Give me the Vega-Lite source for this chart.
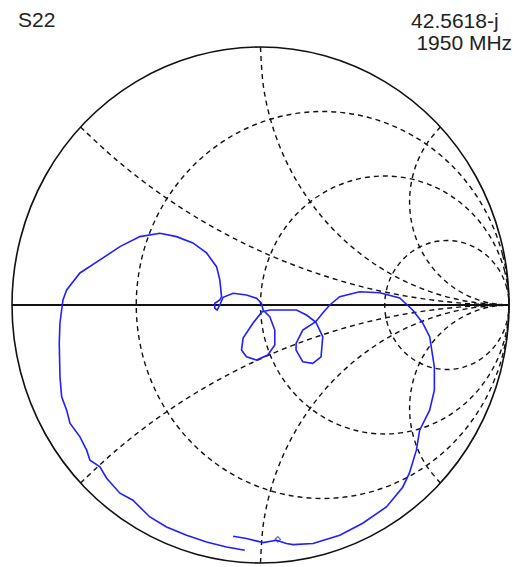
{
  "$schema": "https://vega.github.io/schema/vega-lite/v6.json",
  "width": 497,
  "height": 516,
  "autosize": {"type": "none"},
  "padding": {"left": 12, "top": 47, "right": 4, "bottom": 4},
  "background": "white",
  "config": {"view": {"stroke": null}},
  "datasets": {
    "outer": [
      {"i":0,"x":1,"y":0},{"i":1,"x":0.9659,"y":0.2588},{"i":2,"x":0.866,"y":0.5},{"i":3,"x":0.7071,"y":0.7071},{"i":4,"x":0.5,"y":0.866},{"i":5,"x":0.2588,"y":0.9659},{"i":6,"x":0,"y":1},{"i":7,"x":-0.2588,"y":0.9659},{"i":8,"x":-0.5,"y":0.866},{"i":9,"x":-0.7071,"y":0.7071},{"i":10,"x":-0.866,"y":0.5},{"i":11,"x":-0.9659,"y":0.2588},{"i":12,"x":-1,"y":0},{"i":13,"x":-0.9659,"y":-0.2588},{"i":14,"x":-0.866,"y":-0.5},{"i":15,"x":-0.7071,"y":-0.7071},{"i":16,"x":-0.5,"y":-0.866},{"i":17,"x":-0.2588,"y":-0.9659},{"i":18,"x":0,"y":-1},{"i":19,"x":0.2588,"y":-0.9659},{"i":20,"x":0.5,"y":-0.866},{"i":21,"x":0.7071,"y":-0.7071},{"i":22,"x":0.866,"y":-0.5},{"i":23,"x":0.9659,"y":-0.2588}
    ],
    "circ": [
      {"g":"r1","i":0,"x":1,"y":0},{"g":"r1","i":1,"x":0.9744,"y":0.1941},{"g":"r1","i":2,"x":0.8995,"y":0.375},{"g":"r1","i":3,"x":0.7803,"y":0.5303},{"g":"r1","i":4,"x":0.625,"y":0.6495},{"g":"r1","i":5,"x":0.4441,"y":0.7244},{"g":"r1","i":6,"x":0.25,"y":0.75},{"g":"r1","i":7,"x":0.0559,"y":0.7244},{"g":"r1","i":8,"x":-0.125,"y":0.6495},{"g":"r1","i":9,"x":-0.2803,"y":0.5303},{"g":"r1","i":10,"x":-0.3995,"y":0.375},{"g":"r1","i":11,"x":-0.4744,"y":0.1941},{"g":"r1","i":12,"x":-0.5,"y":0},{"g":"r1","i":13,"x":-0.4744,"y":-0.1941},{"g":"r1","i":14,"x":-0.3995,"y":-0.375},{"g":"r1","i":15,"x":-0.2803,"y":-0.5303},{"g":"r1","i":16,"x":-0.125,"y":-0.6495},{"g":"r1","i":17,"x":0.0559,"y":-0.7244},{"g":"r1","i":18,"x":0.25,"y":-0.75},{"g":"r1","i":19,"x":0.4441,"y":-0.7244},{"g":"r1","i":20,"x":0.625,"y":-0.6495},{"g":"r1","i":21,"x":0.7803,"y":-0.5303},{"g":"r1","i":22,"x":0.8995,"y":-0.375},{"g":"r1","i":23,"x":0.9744,"y":-0.1941},
      {"g":"r2","i":0,"x":1,"y":0},{"g":"r2","i":1,"x":0.983,"y":0.1294},{"g":"r2","i":2,"x":0.933,"y":0.25},{"g":"r2","i":3,"x":0.8536,"y":0.3536},{"g":"r2","i":4,"x":0.75,"y":0.433},{"g":"r2","i":5,"x":0.6294,"y":0.483},{"g":"r2","i":6,"x":0.5,"y":0.5},{"g":"r2","i":7,"x":0.3706,"y":0.483},{"g":"r2","i":8,"x":0.25,"y":0.433},{"g":"r2","i":9,"x":0.1464,"y":0.3536},{"g":"r2","i":10,"x":0.067,"y":0.25},{"g":"r2","i":11,"x":0.017,"y":0.1294},{"g":"r2","i":12,"x":0,"y":0},{"g":"r2","i":13,"x":0.017,"y":-0.1294},{"g":"r2","i":14,"x":0.067,"y":-0.25},{"g":"r2","i":15,"x":0.1464,"y":-0.3536},{"g":"r2","i":16,"x":0.25,"y":-0.433},{"g":"r2","i":17,"x":0.3706,"y":-0.483},{"g":"r2","i":18,"x":0.5,"y":-0.5},{"g":"r2","i":19,"x":0.6294,"y":-0.483},{"g":"r2","i":20,"x":0.75,"y":-0.433},{"g":"r2","i":21,"x":0.8536,"y":-0.3536},{"g":"r2","i":22,"x":0.933,"y":-0.25},{"g":"r2","i":23,"x":0.983,"y":-0.1294},
      {"g":"r3","i":0,"x":1,"y":0},{"g":"r3","i":1,"x":0.9915,"y":0.0647},{"g":"r3","i":2,"x":0.9665,"y":0.125},{"g":"r3","i":3,"x":0.9268,"y":0.1768},{"g":"r3","i":4,"x":0.875,"y":0.2165},{"g":"r3","i":5,"x":0.8147,"y":0.2415},{"g":"r3","i":6,"x":0.75,"y":0.25},{"g":"r3","i":7,"x":0.6853,"y":0.2415},{"g":"r3","i":8,"x":0.625,"y":0.2165},{"g":"r3","i":9,"x":0.5732,"y":0.1768},{"g":"r3","i":10,"x":0.5335,"y":0.125},{"g":"r3","i":11,"x":0.5085,"y":0.0647},{"g":"r3","i":12,"x":0.5,"y":0},{"g":"r3","i":13,"x":0.5085,"y":-0.0647},{"g":"r3","i":14,"x":0.5335,"y":-0.125},{"g":"r3","i":15,"x":0.5732,"y":-0.1768},{"g":"r3","i":16,"x":0.625,"y":-0.2165},{"g":"r3","i":17,"x":0.6853,"y":-0.2415},{"g":"r3","i":18,"x":0.75,"y":-0.25},{"g":"r3","i":19,"x":0.8147,"y":-0.2415},{"g":"r3","i":20,"x":0.875,"y":-0.2165},{"g":"r3","i":21,"x":0.9268,"y":-0.1768},{"g":"r3","i":22,"x":0.9665,"y":-0.125},{"g":"r3","i":23,"x":0.9915,"y":-0.0647}
    ],
    "arcs": [
      {"g":"xa","i":0,"x":-0.7241,"y":0.6897},{"g":"xa","i":1,"x":-0.5813,"y":0.5635},{"g":"xa","i":2,"x":-0.4295,"y":0.449},{"g":"xa","i":3,"x":-0.2695,"y":0.3462},{"g":"xa","i":4,"x":-0.1023,"y":0.256},{"g":"xa","i":5,"x":0.0715,"y":0.1787},{"g":"xa","i":6,"x":0.2507,"y":0.115},{"g":"xa","i":7,"x":0.4342,"y":0.0647},{"g":"xa","i":8,"x":0.621,"y":0.029},{"g":"xa","i":9,"x":0.81,"y":0.0072},{"g":"xa","i":10,"x":1,"y":0},
      {"g":"xb","i":0,"x":-0.7241,"y":-0.6897},{"g":"xb","i":1,"x":-0.5813,"y":-0.5635},{"g":"xb","i":2,"x":-0.4295,"y":-0.449},{"g":"xb","i":3,"x":-0.2695,"y":-0.3462},{"g":"xb","i":4,"x":-0.1023,"y":-0.256},{"g":"xb","i":5,"x":0.0715,"y":-0.1787},{"g":"xb","i":6,"x":0.2507,"y":-0.115},{"g":"xb","i":7,"x":0.4342,"y":-0.0647},{"g":"xb","i":8,"x":0.621,"y":-0.029},{"g":"xb","i":9,"x":0.81,"y":-0.0072},{"g":"xb","i":10,"x":1,"y":0},
      {"g":"xc","i":0,"x":0,"y":1},{"g":"xc","i":1,"x":0.0123,"y":0.8436},{"g":"xc","i":2,"x":0.0489,"y":0.691},{"g":"xc","i":3,"x":0.109,"y":0.546},{"g":"xc","i":4,"x":0.191,"y":0.4122},{"g":"xc","i":5,"x":0.2929,"y":0.2929},{"g":"xc","i":6,"x":0.4122,"y":0.191},{"g":"xc","i":7,"x":0.546,"y":0.109},{"g":"xc","i":8,"x":0.691,"y":0.0489},{"g":"xc","i":9,"x":0.8436,"y":0.0123},{"g":"xc","i":10,"x":1,"y":0},
      {"g":"xd","i":0,"x":0,"y":-1},{"g":"xd","i":1,"x":0.0123,"y":-0.8436},{"g":"xd","i":2,"x":0.0489,"y":-0.691},{"g":"xd","i":3,"x":0.109,"y":-0.546},{"g":"xd","i":4,"x":0.191,"y":-0.4122},{"g":"xd","i":5,"x":0.2929,"y":-0.2929},{"g":"xd","i":6,"x":0.4122,"y":-0.191},{"g":"xd","i":7,"x":0.546,"y":-0.109},{"g":"xd","i":8,"x":0.691,"y":-0.0489},{"g":"xd","i":9,"x":0.8436,"y":-0.0123},{"g":"xd","i":10,"x":1,"y":0},
      {"g":"xe","i":0,"x":0.7241,"y":0.6897},{"g":"xe","i":1,"x":0.6724,"y":0.6295},{"g":"xe","i":2,"x":0.6336,"y":0.5606},{"g":"xe","i":3,"x":0.6092,"y":0.4852},{"g":"xe","i":4,"x":0.6,"y":0.4065},{"g":"xe","i":5,"x":0.6066,"y":0.3276},{"g":"xe","i":6,"x":0.6286,"y":0.2514},{"g":"xe","i":7,"x":0.6652,"y":0.1811},{"g":"xe","i":8,"x":0.7148,"y":0.1195},{"g":"xe","i":9,"x":0.7758,"y":0.0688},{"g":"xe","i":10,"x":0.8454,"y":0.031},{"g":"xe","i":11,"x":0.9211,"y":0.0078},{"g":"xe","i":12,"x":1,"y":0},
      {"g":"xf","i":0,"x":0.7241,"y":-0.6897},{"g":"xf","i":1,"x":0.6724,"y":-0.6295},{"g":"xf","i":2,"x":0.6336,"y":-0.5606},{"g":"xf","i":3,"x":0.6092,"y":-0.4852},{"g":"xf","i":4,"x":0.6,"y":-0.4065},{"g":"xf","i":5,"x":0.6066,"y":-0.3276},{"g":"xf","i":6,"x":0.6286,"y":-0.2514},{"g":"xf","i":7,"x":0.6652,"y":-0.1811},{"g":"xf","i":8,"x":0.7148,"y":-0.1195},{"g":"xf","i":9,"x":0.7758,"y":-0.0688},{"g":"xf","i":10,"x":0.8454,"y":-0.031},{"g":"xf","i":11,"x":0.9211,"y":-0.0078},{"g":"xf","i":12,"x":1,"y":0}
    ],
    "trace": [
      {"i":1,"x":-0.0631,"y":-0.9507},{"i":2,"x":-0.1367,"y":-0.9379},{"i":3,"x":-0.2171,"y":-0.9185},{"i":4,"x":-0.2975,"y":-0.8925},{"i":5,"x":-0.378,"y":-0.8603},{"i":6,"x":-0.4451,"y":-0.8215},{"i":7,"x":-0.5135,"y":-0.7567},{"i":8,"x":-0.5657,"y":-0.7295},{"i":9,"x":-0.6192,"y":-0.6713},{"i":10,"x":-0.6462,"y":-0.6275},{"i":11,"x":-0.6864,"y":-0.6015},{"i":12,"x":-0.6996,"y":-0.5627},{"i":13,"x":-0.7266,"y":-0.5111},{"i":14,"x":-0.7668,"y":-0.4579},{"i":15,"x":-0.78,"y":-0.4075},{"i":16,"x":-0.8002,"y":-0.3558},{"i":17,"x":-0.807,"y":-0.2782},{"i":18,"x":-0.8098,"y":-0.1475},{"i":19,"x":-0.807,"y":-0.0698},{"i":20,"x":-0.8002,"y":-0.0194},{"i":21,"x":-0.7949,"y":0.0194},{"i":22,"x":-0.78,"y":0.0582},{"i":23,"x":-0.7266,"y":0.1242},{"i":24,"x":-0.6462,"y":0.1746},{"i":25,"x":-0.5657,"y":0.2262},{"i":26,"x":-0.4853,"y":0.265},{"i":27,"x":-0.4049,"y":0.2782},{"i":28,"x":-0.3378,"y":0.265},{"i":29,"x":-0.2722,"y":0.2406},{"i":30,"x":-0.2171,"y":0.2018},{"i":31,"x":-0.1769,"y":0.1486},{"i":32,"x":-0.1637,"y":0.097},{"i":33,"x":-0.1568,"y":0.0322},{"i":34,"x":-0.1637,"y":0.0194},{"i":35,"x":-0.1838,"y":0.0066},{"i":36,"x":-0.1838,"y":-0.0128},{"i":37,"x":-0.1745,"y":-0.0194},{"i":38,"x":-0.1637,"y":0},{"i":39,"x":-0.1504,"y":0.0299},{"i":40,"x":-0.1102,"y":0.0454},{"i":41,"x":-0.0563,"y":0.0388},{"i":42,"x":-0.0161,"y":0.026},{"i":43,"x":0.004,"y":0.0066},{"i":44,"x":0.0105,"y":-0.0194},{"i":45,"x":0.0374,"y":-0.0454},{"i":46,"x":0.0575,"y":-0.097},{"i":47,"x":0.0575,"y":-0.1552},{"i":48,"x":0.0294,"y":-0.194},{"i":49,"x":-0.0161,"y":-0.2134},{"i":50,"x":-0.0563,"y":-0.2006},{"i":51,"x":-0.0764,"y":-0.1746},{"i":52,"x":-0.07,"y":-0.1281},{"i":53,"x":-0.0298,"y":-0.0698},{"i":54,"x":0.0052,"y":-0.0272},{"i":55,"x":0.0374,"y":-0.0194},{"i":56,"x":0.0776,"y":-0.0194},{"i":57,"x":0.1448,"y":-0.0194},{"i":58,"x":0.185,"y":-0.0388},{"i":59,"x":0.2224,"y":-0.066},{"i":60,"x":0.2505,"y":-0.123},{"i":61,"x":0.2437,"y":-0.2006},{"i":62,"x":0.2103,"y":-0.2262},{"i":63,"x":0.1701,"y":-0.22},{"i":64,"x":0.1431,"y":-0.1746},{"i":65,"x":0.1431,"y":-0.1486},{"i":66,"x":0.1701,"y":-0.097},{"i":67,"x":0.2224,"y":-0.0648},{"i":68,"x":0.2505,"y":-0.031},{"i":69,"x":0.2786,"y":0},{"i":70,"x":0.3189,"y":0.0322},{"i":71,"x":0.3993,"y":0.0516},{"i":72,"x":0.4797,"y":0.0477},{"i":73,"x":0.5601,"y":0.0272},{"i":74,"x":0.6124,"y":-0.0194},{"i":75,"x":0.6526,"y":-0.0698},{"i":76,"x":0.6807,"y":-0.123},{"i":77,"x":0.6996,"y":-0.2394},{"i":78,"x":0.6996,"y":-0.3298},{"i":79,"x":0.6807,"y":-0.4075},{"i":80,"x":0.6405,"y":-0.4851},{"i":81,"x":0.6273,"y":-0.5627},{"i":82,"x":0.5991,"y":-0.6519},{"i":83,"x":0.5722,"y":-0.7062},{"i":84,"x":0.5066,"y":-0.7827},{"i":85,"x":0.4113,"y":-0.8459},{"i":86,"x":0.3189,"y":-0.8925},{"i":87,"x":0.2115,"y":-0.9247},{"i":88,"x":0.1311,"y":-0.9286},{"i":89,"x":0.1045,"y":-0.9247},{"i":90,"x":0.0643,"y":-0.9119},{"i":91,"x":0.0105,"y":-0.9208},{"i":92,"x":-0.0563,"y":-0.9053},{"i":93,"x":-0.1102,"y":-0.8964}
    ],
    "marker": [{"x":0.0696,"y":-0.908}],
    "axisline": [{"x":-1,"x2":1,"y":0}],
    "labels": [
      {"x":-0.976,"y":1.0788,"text":"S22"},
      {"x":0.6058,"y":1.0749,"text":"42.5618-j"},
      {"x":0.6273,"y":0.9895,"text":"1950 MHz"}
    ]
  },
  "layer": [
    {
      "data": {"name": "circ"},
      "mark": {"type": "line", "interpolate": "cardinal-closed", "stroke": "#111", "strokeWidth": 1.4, "strokeDash": [5, 4]},
      "encoding": {
        "x": {"field": "x", "type": "quantitative", "scale": {"domain": [-1, 1], "nice": false, "zero": false}, "axis": null},
        "y": {"field": "y", "type": "quantitative", "scale": {"domain": [-1, 1], "nice": false, "zero": false}, "axis": null},
        "detail": {"field": "g"},
        "order": {"field": "i"}
      }
    },
    {
      "data": {"name": "arcs"},
      "mark": {"type": "line", "interpolate": "cardinal", "stroke": "#111", "strokeWidth": 1.4, "strokeDash": [5, 4]},
      "encoding": {
        "x": {"field": "x", "type": "quantitative", "axis": null},
        "y": {"field": "y", "type": "quantitative", "axis": null},
        "detail": {"field": "g"},
        "order": {"field": "i"}
      }
    },
    {
      "data": {"name": "outer"},
      "mark": {"type": "line", "interpolate": "cardinal-closed", "stroke": "#111", "strokeWidth": 1.6},
      "encoding": {
        "x": {"field": "x", "type": "quantitative", "axis": null},
        "y": {"field": "y", "type": "quantitative", "axis": null},
        "order": {"field": "i"}
      }
    },
    {
      "data": {"name": "axisline"},
      "mark": {"type": "rule", "stroke": "#111", "strokeWidth": 2},
      "encoding": {
        "x": {"field": "x", "type": "quantitative", "axis": null},
        "x2": {"field": "x2"},
        "y": {"field": "y", "type": "quantitative", "axis": null}
      }
    },
    {
      "data": {"name": "trace"},
      "mark": {"type": "line", "interpolate": "linear", "stroke": "#1f1fff", "strokeWidth": 1.6},
      "encoding": {
        "x": {"field": "x", "type": "quantitative", "axis": null},
        "y": {"field": "y", "type": "quantitative", "axis": null},
        "order": {"field": "i"}
      }
    },
    {
      "data": {"name": "marker"},
      "mark": {"type": "point", "shape": "diamond", "filled": false, "stroke": "#1f1fff", "strokeWidth": 1.2, "size": 28},
      "encoding": {
        "x": {"field": "x", "type": "quantitative", "axis": null},
        "y": {"field": "y", "type": "quantitative", "axis": null}
      }
    },
    {
      "data": {"name": "labels"},
      "mark": {"type": "text", "align": "left", "baseline": "alphabetic", "font": "Liberation Sans", "fontSize": 21, "color": "#222"},
      "encoding": {
        "x": {"field": "x", "type": "quantitative", "axis": null},
        "y": {"field": "y", "type": "quantitative", "axis": null},
        "text": {"field": "text"}
      }
    }
  ]
}
